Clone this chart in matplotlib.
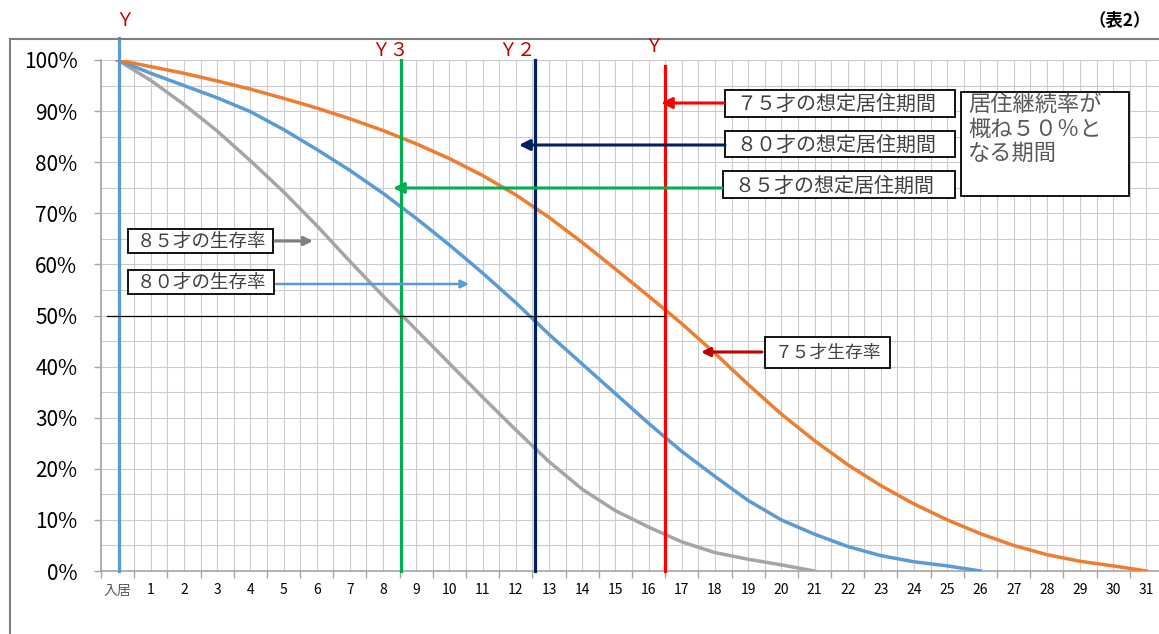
import matplotlib
matplotlib.use("Agg")
import matplotlib.pyplot as plt
import matplotlib.transforms as mtransforms
from matplotlib.ticker import FixedLocator, MultipleLocator, PercentFormatter
from matplotlib.patches import Rectangle, FancyArrowPatch
from matplotlib.lines import Line2D

plt.rcParams['font.family'] = ['Noto Sans CJK JP', 'DejaVu Sans']

W, H = 1159, 634

# 横軸：入居からの経過年数
nenme = ['入居'] + [str(i) for i in range(1, 32)]

# 生存率（％）
sei75 = [100, 98.7, 97.4, 95.9, 94.3, 92.5, 90.6, 88.5, 86.2, 83.6, 80.7,
         77.4, 73.6, 69.2, 64.3, 59.1, 53.8, 48.4, 42.6, 36.5, 30.7,
         25.5, 20.8, 16.7, 13.1, 10.0, 7.3, 5.0, 3.2, 1.9, 1.0, 0]
sei80 = [100, 97.4, 95.0, 92.6, 89.9, 86.4, 82.5, 78.4, 73.9, 69.0, 63.8,
         58.3, 52.5, 46.3, 40.5, 34.7, 28.9, 23.4, 18.5, 13.8, 10.0,
         7.2, 4.8, 3.0, 1.8, 1.0, 0]
sei85 = [100, 96.0, 91.3, 86.1, 80.3, 74.2, 67.6, 60.6, 53.8, 47.2, 40.6,
         34.0, 27.6, 21.4, 16.0, 11.8, 8.6, 5.7, 3.6, 2.3, 1.2, 0]

# 居住継続率が概ね50%となる期間（年）
kikan75 = 16.48
kikan80 = 12.58
kikan85 = 8.55

fig = plt.figure(figsize=(W / 100, H / 100), dpi=100)
ax = fig.add_axes([101 / W, (H - 571) / H, (1163 - 101) / W, (571 - 60) / H])
# ピクセル座標（左上原点）
pix = mtransforms.Affine2D().scale(1 / W, -1 / H).translate(0, 1) + fig.transFigure

ax.set_xlim(-0.5, 31.5)
ax.set_ylim(0, 100)

ax.xaxis.set_major_locator(FixedLocator(range(len(nenme))))
ax.set_xticklabels(nenme)
ax.xaxis.set_minor_locator(FixedLocator([i - 0.5 for i in range(len(nenme) + 1)]))
ax.yaxis.set_major_locator(MultipleLocator(10))
ax.yaxis.set_minor_locator(MultipleLocator(5))
ax.yaxis.set_major_formatter(PercentFormatter(100, decimals=0))

ax.tick_params(axis='x', which='major', length=0, pad=9, labelsize=10)
ax.tick_params(axis='x', which='minor', length=5, color='#a6a6a6', width=1)
ax.tick_params(axis='y', which='major', length=5, color='#a6a6a6', width=1,
               pad=12, labelsize=15)
ax.tick_params(axis='y', which='minor', length=0)
for lb in ax.get_xticklabels():
    if lb.get_text() == '入居':
        lb.set_color('#595959')

ax.grid(True, which='both', color='#cccccc', lw=0.8)
ax.set_axisbelow(True)
for s in ['top', 'right']:
    ax.spines[s].set_visible(False)
for s in ['left', 'bottom']:
    ax.spines[s].set_color('#a6a6a6')
    ax.spines[s].set_linewidth(1.2)

ax.plot(range(len(sei85)), sei85, color='#a5a5a5', lw=2.5, zorder=4)
ax.plot(range(len(sei80)), sei80, color='#5b9bd5', lw=2.5, zorder=4)
ax.plot(range(len(sei75)), sei75, color='#ed7d31', lw=2.5, zorder=4)

# 縦線
ax.plot([0.05, 0.05], [0, 104.3], color='#5b9bd5', lw=2.3, clip_on=False, zorder=5)
ax.plot([kikan85, kikan85], [0, 100], color='#00b050', lw=2.3, clip_on=False, zorder=5)
ax.plot([kikan80, kikan80], [0, 100], color='#002060', lw=2.3, clip_on=False, zorder=5)
ax.plot([kikan75, kikan75], [0, 98.9], color='#ff0000', lw=2.3, clip_on=False, zorder=5)
ax.plot([-0.31, kikan75], [50, 50], color='black', lw=0.9, zorder=5)

# 外枠
fig.add_artist(Line2D([10, W], [39, 39], transform=pix, color='#7f7f7f', lw=1.5))
fig.add_artist(Line2D([10, 10], [39, H], transform=pix, color='#7f7f7f', lw=1.5))
fig.text(1151, 20, '（表2）', transform=pix, ha='right', va='center',
         fontsize=12.5, fontweight='bold')

for s, x, y in [('Ｙ', 125, 21), ('Ｙ３', 390, 50), ('Ｙ２', 517, 50), ('Ｙ', 654, 47)]:
    fig.text(x, y, s, transform=pix, ha='center', va='center', fontsize=13.5,
             color='#c00000')


def box(x0, y0, x1, y1):
    fig.add_artist(Rectangle((x0, y0), x1 - x0, y1 - y0, transform=pix,
                             fill=True, facecolor='white', edgecolor='black',
                             lw=1.3, zorder=6))


def arrow(x0, x1, y, c, lw=2.2, ms=16):
    fig.add_artist(FancyArrowPatch((x0, y), (x1, y), transform=pix,
                                   arrowstyle='-|>', mutation_scale=ms, lw=lw,
                                   color=c, shrinkA=0, shrinkB=0, zorder=6))


txt = '#404040'
box(725, 90, 955, 117)
fig.text(736, 104, '７５才の想定居住期間', transform=pix, va='center',
         fontsize=14.4, color=txt, zorder=7)
arrow(724, 661, 103, '#ff0000')
box(725, 131, 955, 157)
fig.text(736, 145, '８０才の想定居住期間', transform=pix, va='center',
         fontsize=14.4, color=txt, zorder=7)
arrow(725, 519, 145, '#002060')
box(723, 171, 955, 198)
fig.text(734, 186, '８５才の想定居住期間', transform=pix, va='center',
         fontsize=14.4, color=txt, zorder=7)
arrow(722, 393, 188, '#00b050')

box(961, 92, 1129, 196)
fig.text(968, 94, '居住継続率が\n概ね５０％と\nなる期間', transform=pix,
         va='top', fontsize=16, color='#595959', linespacing=1.05, zorder=7)

box(128, 229, 273, 253)
fig.text(137, 242, '８５才の生存率', transform=pix, va='center',
         fontsize=13.3, color=txt, zorder=7)
arrow(275, 313, 241, '#808080', lw=2.2, ms=13)
box(128, 270, 274, 294)
fig.text(137, 283, '８０才の生存率', transform=pix, va='center',
         fontsize=13.3, color=txt, zorder=7)
arrow(276, 469, 284, '#5b9bd5', lw=1.8, ms=12)
box(765, 337, 890, 368)
fig.text(775, 353, '７５才生存率', transform=pix, va='center',
         fontsize=12.8, color=txt, zorder=7)
arrow(762, 701, 352, '#c00000', lw=2.2, ms=13)

fig.savefig('out.png', dpi=100)
